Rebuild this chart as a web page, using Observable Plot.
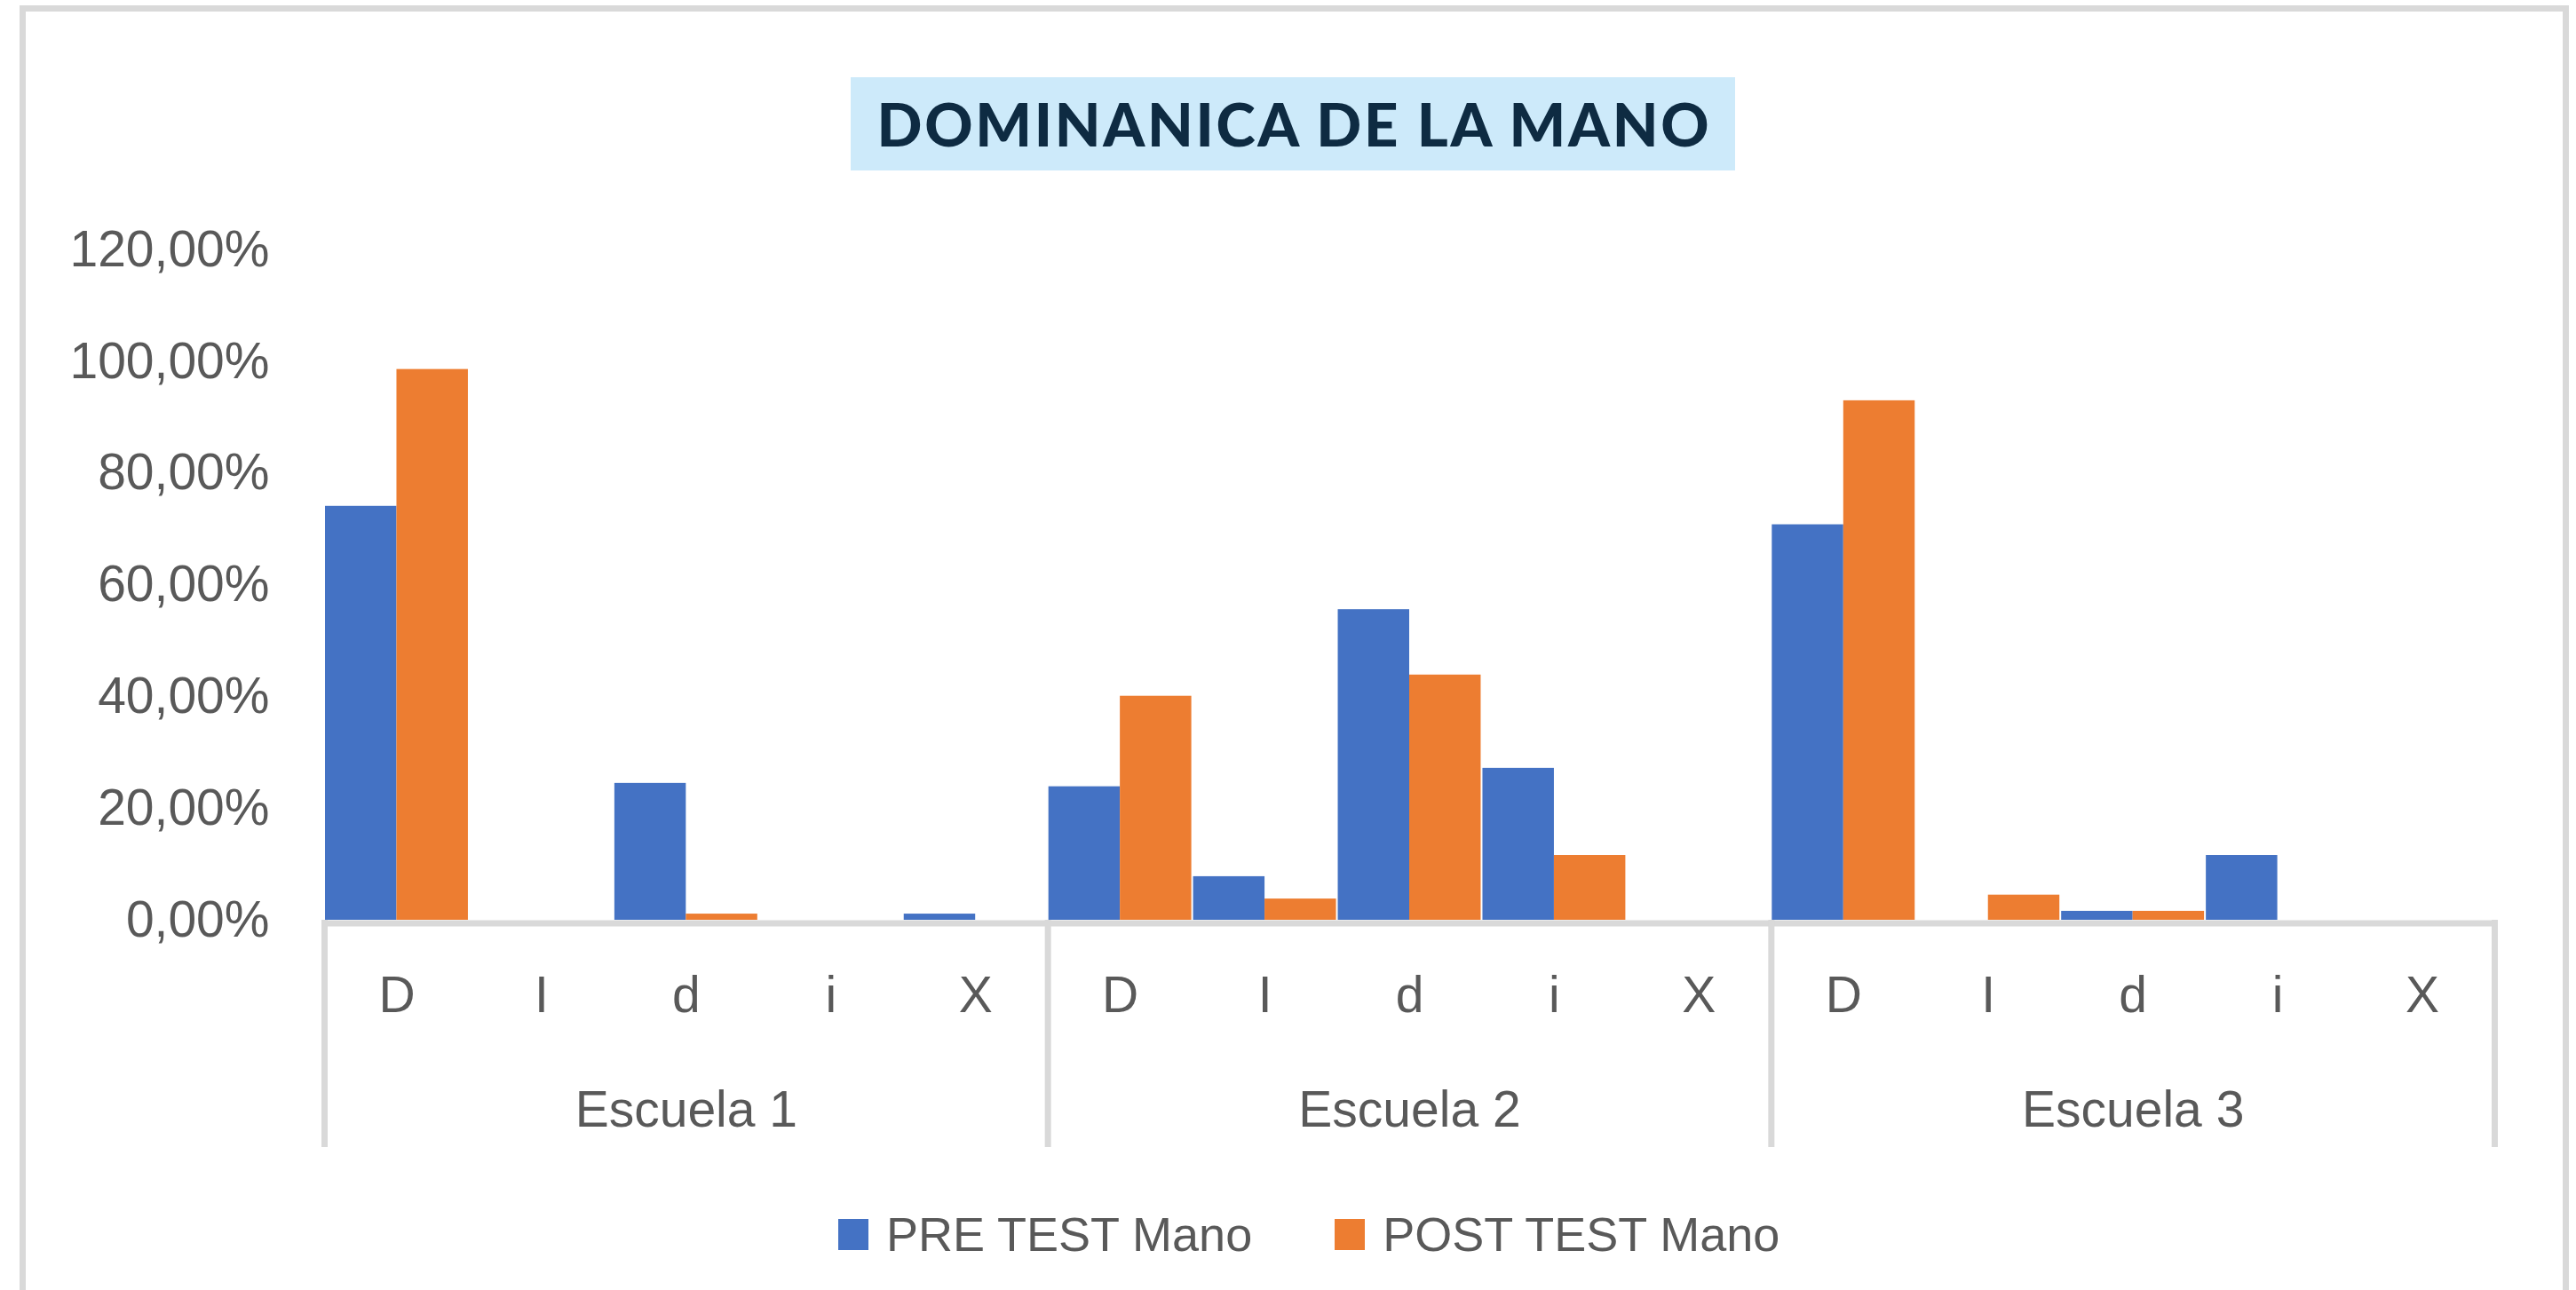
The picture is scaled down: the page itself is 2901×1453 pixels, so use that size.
<!DOCTYPE html>
<html>
<head>
<meta charset="utf-8">
<script src="https://cdn.jsdelivr.net/npm/d3@7"></script>
<script src="https://cdn.jsdelivr.net/npm/@observablehq/plot@0.6"></script>
<style>
  html, body { margin: 0; padding: 0; background: #ffffff; }
  body { width: 2901px; height: 1453px; overflow: hidden; position: relative; font-family: "Liberation Sans", Arial, sans-serif; }
  #frame { position: absolute; left: 22px; top: 6px; width: 2871px; height: 1470px; box-sizing: border-box;
           border: 7px solid #D9D9D9; border-bottom: none; pointer-events: none; }
  #titlebox { position: absolute; left: 958px; top: 87px; width: 996px; height: 105px; background: #CDEAFA;
              display: flex; align-items: center; justify-content: center; }
  #title { font-family: Lato, "Open Sans", sans-serif; font-weight: 900; font-size: 67px; color: #0E2B42;
           white-space: nowrap; line-height: 1; }
  #chart { position: absolute; left: 0; top: 200px; }
  #legend { position: absolute; left: 944px; top: 1363px; height: 54px; display: flex; align-items: center;
            font-size: 54px; line-height: 54px; color: #595959; }
  .sw { width: 34px; height: 35px; margin-right: 20px; }
  .item { display: flex; align-items: center; }
</style>
</head>
<body>
<div id="titlebox"><span id="title">DOMINANICA DE LA MANO</span></div>
<div id="chart"></div>
<div id="legend"></div>
<div id="frame"></div>
<script>
// ---- data ----
const groups = ["Escuela 1", "Escuela 2", "Escuela 3"];
const categories = ["D", "I", "d", "i", "X"];
const seriesNames = ["PRE TEST Mano", "POST TEST Mano"];
const seriesColors = ["#4472C4", "#ED7D31"];
const preTest  = [0.741, 0, 0.245, 0, 0.011,   0.239, 0.078, 0.556, 0.272, 0,   0.708, 0, 0.016, 0.116, 0];
const postTest = [0.986, 0, 0.011, 0, 0,       0.401, 0.038, 0.439, 0.116, 0,   0.930, 0.045, 0.016, 0, 0];
const yTicks = [0, 0.2, 0.4, 0.6, 0.8, 1.0, 1.2];

// ---- table ----
const rows = groups.flatMap((g, gi) => categories.map((c, ci) => ({
  key: g + "|" + c, group: g, cat: c,
  pre: preTest[gi * categories.length + ci],
  post: postTest[gi * categories.length + ci]
})));
const keys = rows.map(d => d.key);
const firstKeys = groups.map(g => g + "|" + categories[0]);
const midKeys = groups.map(g => g + "|" + categories[Math.floor(categories.length / 2)]);
const lastKey = groups[groups.length - 1] + "|" + categories[categories.length - 1];

const W = 2901, H = 1130, ML = 365, MR = 92, MT = 81, MB = 294;
const bw = (W - ML - MR) / keys.length;
const fmt = v => (v * 100).toFixed(2).replace(".", ",") + "%";
const textColor = "#595959", lineColor = "#D9D9D9";

const chart = Plot.plot({
  width: W, height: H,
  marginTop: MT, marginBottom: MB, marginLeft: ML, marginRight: MR,
  x: {domain: keys, padding: 0, round: false, axis: null},
  y: {domain: [0, 1.2], axis: null},
  style: {fontFamily: "'Liberation Sans', Arial, sans-serif", background: "white", overflow: "visible"},
  marks: [
    Plot.barY(rows.filter(d => d.pre > 0), {x: "key", y: "pre", fill: seriesColors[0], insetLeft: 1, insetRight: bw / 2}),
    Plot.barY(rows.filter(d => d.post > 0), {x: "key", y: "post", fill: seriesColors[1], insetLeft: bw / 2, insetRight: 1}),
    Plot.ruleY([0], {stroke: lineColor, strokeWidth: 7, dy: 3.5}),
    Plot.axisY({ticks: yTicks, tickSize: 0, tickPadding: 62, tickFormat: fmt, fontSize: 57, color: textColor, label: null}),
    Plot.axisX({ticks: firstKeys, tickSize: 256, dx: -bw / 2, tickFormat: () => "", color: lineColor, strokeWidth: 7, label: null}),
    Plot.axisX({ticks: [lastKey], tickSize: 256, dx: bw / 2, tickFormat: () => "", color: lineColor, strokeWidth: 7, label: null}),
    Plot.axisX({ticks: keys, tickSize: 0, tickPadding: 63, tickFormat: k => k.split("|")[1], fontSize: 57, color: textColor, label: null}),
    Plot.axisX({ticks: midKeys, tickSize: 0, tickPadding: 192, tickFormat: k => k.split("|")[0], fontSize: 57, color: textColor, label: null})
  ]
});
document.getElementById("chart").appendChild(chart);

// ---- legend ----
const legend = document.getElementById("legend");
seriesNames.forEach((name, i) => {
  const item = document.createElement("div");
  item.className = "item";
  if (i > 0) item.style.marginLeft = "93px";
  const sw = document.createElement("div");
  sw.className = "sw";
  sw.style.background = seriesColors[i];
  const lbl = document.createElement("span");
  lbl.textContent = name;
  item.appendChild(sw); item.appendChild(lbl);
  legend.appendChild(item);
});

// ---- title spacing to match width ----
const t = document.getElementById("title");
const targetW = 937;
const w0 = t.getBoundingClientRect().width;
const n = t.textContent.length;
const ls = (targetW - w0) / (n - 1);
t.style.letterSpacing = ls + "px";
t.style.marginRight = (-ls) + "px";
</script>
</body>
</html>
